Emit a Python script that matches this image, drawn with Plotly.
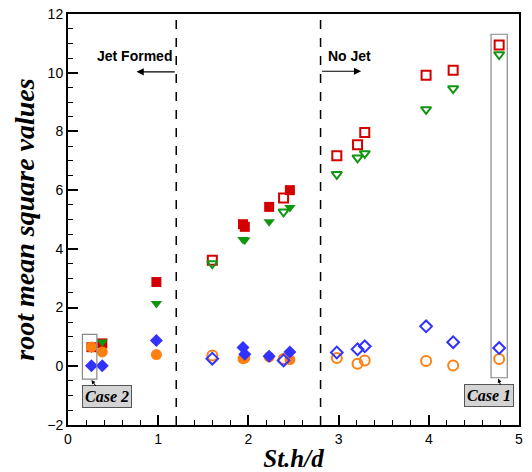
import plotly.graph_objects as go

# Filled-marker cases (jet formed region and transition)
x_filled = [0.26, 0.38, 0.98, 1.94, 1.96, 2.23, 2.46]
red_filled = [0.65, 0.78, 2.87, 4.84, 4.75, 5.43, 6.00]
green_filled = [0.62, 0.83, 2.14, 4.32, 4.30, 4.92, 5.41]
orange_filled = [0.66, 0.49, 0.40, 0.26, 0.28, 0.32, 0.23]
blue_filled = [0.02, 0.02, 0.88, 0.64, 0.41, 0.34, 0.49]

# Hollow-marker cases
x_hollow = [1.60, 2.39, 2.98, 3.21, 3.29, 3.97, 4.27, 4.78]
red_hollow = [3.61, 5.73, 7.17, 7.55, 7.96, 9.91, 10.08, 10.94]
green_hollow = [3.50, 5.26, 6.54, 7.10, 7.25, 8.75, 9.46, 10.62]
orange_hollow = [0.37, 0.25, 0.28, 0.09, 0.20, 0.18, 0.03, 0.25]
blue_hollow = [0.26, 0.20, 0.47, 0.58, 0.68, 1.36, 0.82, 0.62]

RED = "#d40000"
GREEN = "#129612"
ORANGE = "#ff8010"
BLUE = "#3232ff"

fig = go.Figure()

def add(x, y, symbol, color, size, filled):
    if filled:
        marker = dict(symbol=symbol, color=color, size=size, line=dict(width=0))
    else:
        marker = dict(symbol=symbol + "-open", color=color, size=size, line=dict(width=2, color=color))
    fig.add_trace(go.Scatter(x=x, y=y, mode="markers", marker=marker, showlegend=False, cliponaxis=False))

add(x_filled, red_filled, "square", RED, 10, True)
add(x_hollow, red_hollow, "square", RED, 9, False)
add(x_filled, green_filled, "triangle-down", GREEN, 10, True)
add(x_hollow, green_hollow, "triangle-down", GREEN, 9, False)
add(x_filled, orange_filled, "circle", ORANGE, 11, True)
add(x_hollow, orange_hollow, "circle", ORANGE, 10, False)
add(x_filled, blue_filled, "diamond", BLUE, 10, True)
add(x_hollow, blue_hollow, "diamond", BLUE, 9, False)

shapes = [
    dict(type="line", x0=1.2, x1=1.2, y0=-2, y1=12, xref="x", yref="y",
         line=dict(color="black", width=1.5, dash="dash")),
    dict(type="line", x0=2.8, x1=2.8, y0=-2, y1=12, xref="x", yref="y",
         line=dict(color="black", width=1.5, dash="dash")),
    dict(type="rect", x0=0.16, x1=0.32, y0=-0.44, y1=1.09, xref="x", yref="y",
         line=dict(color="#888888", width=1.2)),
    dict(type="rect", x0=4.69, x1=4.87, y0=-0.39, y1=11.31, xref="x", yref="y",
         line=dict(color="#888888", width=1.2)),
]

serif = "Liberation Serif, Times New Roman, serif"
sans = "Liberation Sans, Arial, sans-serif"

annotations = [
    dict(x=0.74, y=10.56, text="<b>Jet Formed</b>", showarrow=False, xref="x", yref="y",
         font=dict(family=sans, size=14, color="black")),
    dict(x=3.12, y=10.56, text="<b>No Jet</b>", showarrow=False, xref="x", yref="y",
         font=dict(family=sans, size=14, color="black")),
    dict(x=0.76, y=10.03, ax=1.2, ay=10.03, xref="x", yref="y", axref="x", ayref="y",
         text="", showarrow=True, arrowhead=2, arrowsize=1.2, arrowwidth=1.2, arrowcolor="black"),
    dict(x=3.25, y=10.05, ax=2.8, ay=10.05, xref="x", yref="y", axref="x", ayref="y",
         text="", showarrow=True, arrowhead=2, arrowsize=1.2, arrowwidth=1.2, arrowcolor="black"),
    dict(x=0.43, y=-1.02, text="<b><i>Case 2</i></b>", showarrow=False, xref="x", yref="y",
         font=dict(family=serif, size=16, color="black"), bgcolor="#d4d4d4",
         bordercolor="#555555", borderwidth=1, borderpad=2),
    dict(x=4.67, y=-0.99, text="<b><i>Case 1</i></b>", showarrow=False, xref="x", yref="y",
         font=dict(family=serif, size=16, color="black"), bgcolor="#d4d4d4",
         bordercolor="#555555", borderwidth=1, borderpad=2),
    dict(x=0.26, y=-0.47, ax=0.32, ay=-0.72, xref="x", yref="y", axref="x", ayref="y",
         text="", showarrow=True, arrowhead=2, arrowsize=0.8, arrowwidth=1, arrowcolor="black"),
    dict(x=4.77, y=-0.42, ax=4.80, ay=-0.68, xref="x", yref="y", axref="x", ayref="y",
         text="", showarrow=True, arrowhead=2, arrowsize=0.8, arrowwidth=1, arrowcolor="black"),
]

fig.update_layout(
    width=532, height=472,
    margin=dict(l=68, r=13, t=14, b=47, autoexpand=False),
    plot_bgcolor="white", paper_bgcolor="white",
    shapes=shapes, annotations=annotations,
    showlegend=False,
)

fig.update_xaxes(
    range=[0, 5], dtick=1, tick0=0, showgrid=False, zeroline=False, automargin=False,
    showline=True, linecolor="black", linewidth=2, mirror=True,
    ticks="inside", ticklen=10, tickwidth=2, tickcolor="black",
    minor=dict(dtick=0.2, ticks="inside", ticklen=5, tickwidth=1, tickcolor="black", showgrid=False),
    tickfont=dict(family=sans, size=14, color="black"),
    title=dict(text="<b><i>St.h/d</i></b>", font=dict(family=serif, size=25, color="black"), standoff=4),
)
fig.update_yaxes(
    range=[-2, 12], dtick=2, tick0=0, showgrid=False, zeroline=False, automargin=False,
    showline=True, linecolor="black", linewidth=2, mirror=True,
    ticks="inside", ticklen=10, tickwidth=2, tickcolor="black",
    minor=dict(dtick=0.5, ticks="inside", ticklen=5, tickwidth=1, tickcolor="black", showgrid=False),
    tickfont=dict(family=sans, size=14, color="black"),
    title=dict(text="<b><i>root mean square values</i></b>", font=dict(family=serif, size=28, color="black"), standoff=4),
)

fig.write_html("out.html", config={"displayModeBar": False},
               post_script="document.body.style.margin='0';document.body.style.overflow='hidden';")
